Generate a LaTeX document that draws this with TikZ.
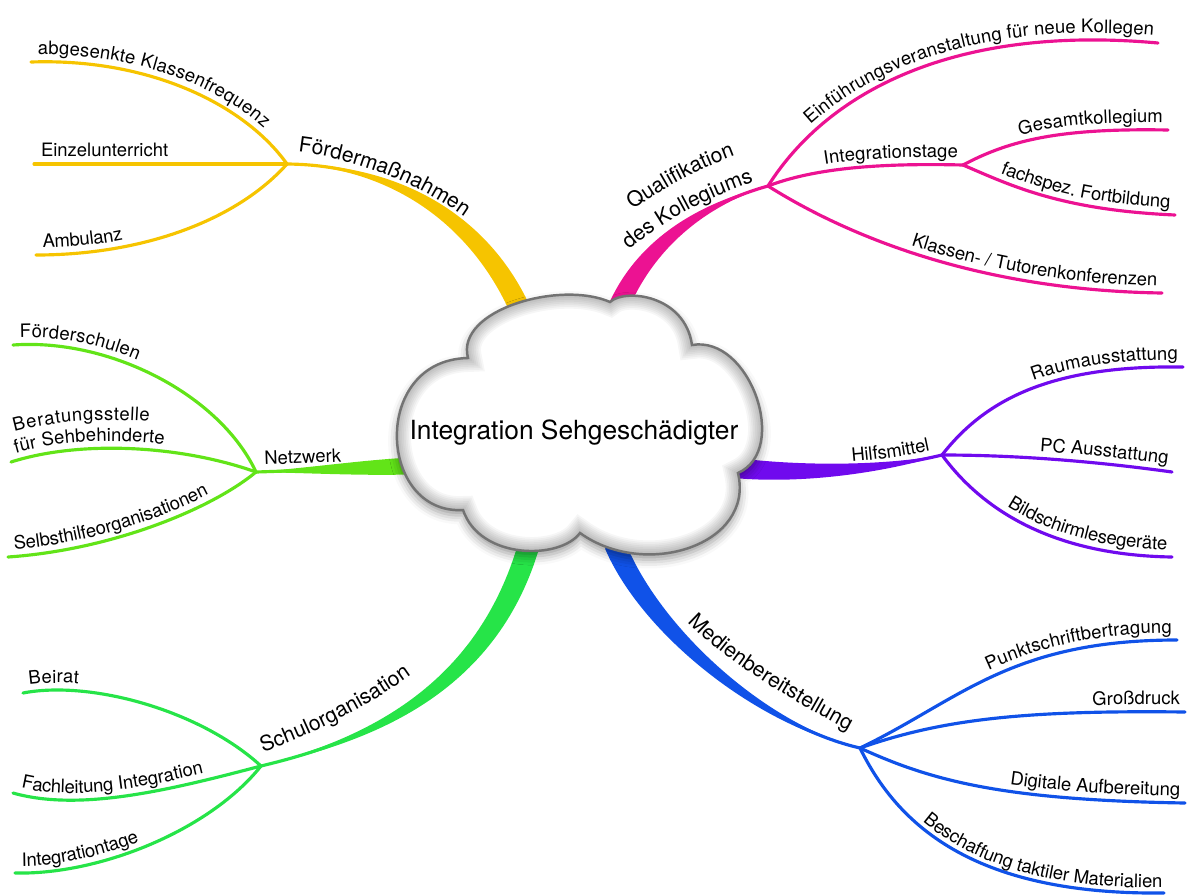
\documentclass[tikz,border=0pt]{standalone}
\usepackage{fontspec}
\setmainfont{TeX Gyre Heros}
\usetikzlibrary{calc, shadows.blur, decorations.text}

\definecolor{cgelb}{RGB}{246,196,0}
\definecolor{cpink}{RGB}{236,18,146}
\definecolor{clila}{RGB}{112,10,238}
\definecolor{cblau}{RGB}{16,82,232}
\definecolor{cgruen}{RGB}{38,228,72}
\definecolor{chellgruen}{RGB}{98,228,24}

\tikzset{
	% Zweige
	blatt/.style={draw=#1, line width=1.8pt, line cap=round},
	% Schrift entlang der Linie
	schrift/.style={postaction={decorate, decoration={text along path, raise=4pt, #1}}},
	links/.style={schrift={text={#1}, text align={left, left indent=4pt}}},
	rechts/.style={schrift={text={#1}, text align={right, right indent=3pt}}},
	% Hauptzweige: Schrift auf eigener Grundlinie
	hauptschrift/.style={schrift={text={|\gross|#1}, text align=left, raise=0pt}},
	% Umriss der Wolke
	wolkenrand/.style={insert path={(468,358) .. controls (455,310) and (560,280) .. (610,302)
		.. controls (625,288) and (685,295) .. (692,345)
		.. controls (750,335) and (790,450) .. (738,473)
		.. controls (755,545) and (645,580) .. (580,533)
		.. controls (560,560) and (480,560) .. (463,510)
		.. controls (378,515) and (370,360) .. (468,358) -- cycle}}
}

% dicker Ast: Farbe, Verzweigung, Kontrollpunkte, Ende in der Wolke, halbe Breite
\newcommand{\stamm}[6]{%
	\fill[#1] (#2) .. controls ($#3+0.4*(#6)$) and ($#4+0.9*(#6)$) .. ($(#5)+(#6)$)
		-- ($(#5)-(#6)$) .. controls ($#4-0.9*(#6)$) and ($#3-0.4*(#6)$) .. (#2) -- cycle;
	\draw[#1, line width=1.8pt] (#2) .. controls #3 and #4 .. (#5);
}
\newcommand{\gross}{\fontsize{12}{14}\selectfont}

\begin{document}
\begin{tikzpicture}[x=0.02cm, y=-0.02cm]
	\fontsize{10.5}{12.5}\selectfont
	\useasboundingbox (0,0) rectangle (1187,896);
	
	% Verzweigungen
	\coordinate (foerder) at (287,164);
	\coordinate (quali) at (768,186);
	\coordinate (integ) at (963,165);
	\coordinate (hilfe) at (942,455);
	\coordinate (medien) at (860,748);
	\coordinate (schule) at (261,766);
	\coordinate (netz) at (256,472);
	
	% Enden in der Wolke
	\coordinate (foerderW) at (518,305);
	\coordinate (qualiW) at (618,308);
	\coordinate (hilfeW) at (735,468);
	\coordinate (medienW) at (615,545);
	\coordinate (schuleW) at (528,548);
	\coordinate (netzW) at (410,466);
	
	% Blattenden
	\coordinate (f1) at (31,62);
	\coordinate (f2) at (34,164);
	\coordinate (f3) at (36,255);
	\coordinate (q1) at (1158,43);
	\coordinate (q3) at (1162,293);
	\coordinate (i1) at (1168,130);
	\coordinate (i2) at (1175,215);
	\coordinate (h1) at (1183,367);
	\coordinate (h2) at (1172,472);
	\coordinate (h3) at (1172,557);
	\coordinate (m1) at (1177,640);
	\coordinate (m2) at (1185,712);
	\coordinate (m3) at (1185,803);
	\coordinate (m4) at (1164,893);
	\coordinate (s1) at (23,693);
	\coordinate (s2) at (13,793);
	\coordinate (s3) at (15,873);
	\coordinate (n1) at (13,345);
	\coordinate (n2) at (11,462);
	\coordinate (n3) at (8,557);
	
	% Foerdermassnahmen
	\stamm{cgelb}{foerder}{(390,165)}{(475,215)}{foerderW}{9,-5}
	\path[hauptschrift={Fördermaßnahmen}] (298,152) .. controls (350,158) and (425,183) .. (485,232);
	\draw[blatt=cgelb, links={abgesenkte Klassenfrequenz}] (f1) .. controls (150,58) and (245,105) .. (foerder);
	\draw[blatt=cgelb, links={Einzelunterricht}] (f2) -- (foerder);
	\draw[blatt=cgelb, links={Ambulanz}] (f3) .. controls (140,255) and (235,222) .. (foerder);
	
	% Qualifikation
	\stamm{cpink}{quali}{(700,205)}{(645,245)}{qualiW}{9,4.5}
	\path[hauptschrift={Qualifikation}] (633,210) .. controls (665,186) and (705,165) .. (760,147);
	\path[hauptschrift={des Kollegiums}] (629,250) .. controls (665,220) and (705,198) .. (765,178);
	\draw[blatt=cpink, rechts={Einführungsveranstaltung für neue Kollegen}] (quali) .. controls (830,88) and (960,25) .. (q1);
	\draw[blatt=cpink, rechts={Integrationstage}] (quali) .. controls (815,168) and (880,163) .. (integ);
	\draw[blatt=cpink, rechts={Gesamtkollegium}] (integ) .. controls (1010,140) and (1060,128) .. (i1);
	\draw[blatt=cpink, rechts={fachspez. Fortbildung}] (integ) .. controls (1010,185) and (1060,210) .. (i2);
	\draw[blatt=cpink, rechts={Klassen- / Tutorenkonferenzen}] (quali) .. controls (830,225) and (960,290) .. (q3);
	
	% Hilfsmittel
	\stamm{clila}{hilfe}{(880,470)}{(800,475)}{hilfeW}{1,-10}
	\path[schrift={text={Hilfsmittel}, text align={right, right indent=6pt}}]
		(hilfeW) .. controls (800,475) and (880,470) .. (hilfe);
	\draw[blatt=clila, rechts={Raumausstattung}] (hilfe) .. controls (985,400) and (1050,365) .. (h1);
	\draw[blatt=clila, rechts={PC Ausstattung}] (hilfe) .. controls (1020,455) and (1100,462) .. (h2);
	\draw[blatt=clila, rechts={Bildschirmlesegeräte}] (hilfe) .. controls (975,500) and (1040,555) .. (h3);
	
	% Medienbereitstellung
	\stamm{cblau}{medien}{(760,725)}{(650,630)}{medienW}{10,-3.5}
	\path[hauptschrift={Medienbereitstellung}] (688,622) .. controls (725,660) and (780,695) .. (870,742);
	\draw[blatt=cblau, rechts={Punktschriftbertragung}] (medien) .. controls (960,700) and (1010,640) .. (m1);
	\draw[blatt=cblau, rechts={Großdruck}] (medien) .. controls (940,720) and (1020,710) .. (m2);
	\draw[blatt=cblau, rechts={Digitale Aufbereitung}] (medien) .. controls (930,780) and (1000,800) .. (m3);
	\draw[blatt=cblau, schrift={text={Beschaffung taktiler Materialien}, text align={right, right indent=1pt}, raise=3pt}]
		(medien) .. controls (900,830) and (980,895) .. (m4);
	
	% Schulorganisation
	\stamm{cgruen}{schule}{(370,740)}{(485,690)}{schuleW}{10,4}
	\path[hauptschrift={Schulorganisation}] (263,752) .. controls (310,735) and (370,707) .. (425,665);
	\draw[blatt=cgruen, links={Beirat}] (s1) .. controls (90,680) and (200,710) .. (schule);
	\draw[blatt=cgruen, links={Fachleitung Integration}] (s2) .. controls (80,812) and (170,790) .. (schule);
	\draw[blatt=cgruen, links={Integrationtage}] (s3) .. controls (100,875) and (210,830) .. (schule);
	
	% Netzwerk
	\stamm{chellgruen}{netz}{(320,470)}{(360,468)}{netzW}{0,8.5}
	\path[schrift={text={Netzwerk}, text align={left, left indent=5pt}}]
		(netz) .. controls (320,470) and (360,468) .. (netzW);
	\draw[blatt=chellgruen, links={Förderschulen}] (n1) .. controls (110,338) and (220,395) .. (netz);
	\draw[blatt=chellgruen, links={für Sehbehinderte},
		schrift={text={Beratungsstelle}, text align={left, left indent=6pt}, raise=16pt}]
		(n2) .. controls (80,440) and (180,445) .. (netz);
	\draw[blatt=chellgruen, links={Selbsthilfeorganisationen}] (n3) .. controls (110,550) and (210,510) .. (netz);
	
	% Wolke: Schatten, innerer Schimmer, Rand
	\fill[white, wolkenrand, blur shadow={shadow xshift=0pt, shadow yshift=-3pt, shadow blur radius=5pt, shadow opacity=40}];
	\begin{scope}
		\clip[wolkenrand];
		\foreach \b in {1,...,8}
			\draw[black, opacity=0.035, line width=\b*0.07cm, wolkenrand];
	\end{scope}
	\draw[gray!90!black, line width=1.4pt, wolkenrand];
	\node[font=\fontsize{15}{18}\selectfont] (titel) at (574,433) {Integration Sehgeschädigter};
\end{tikzpicture}
\end{document}
